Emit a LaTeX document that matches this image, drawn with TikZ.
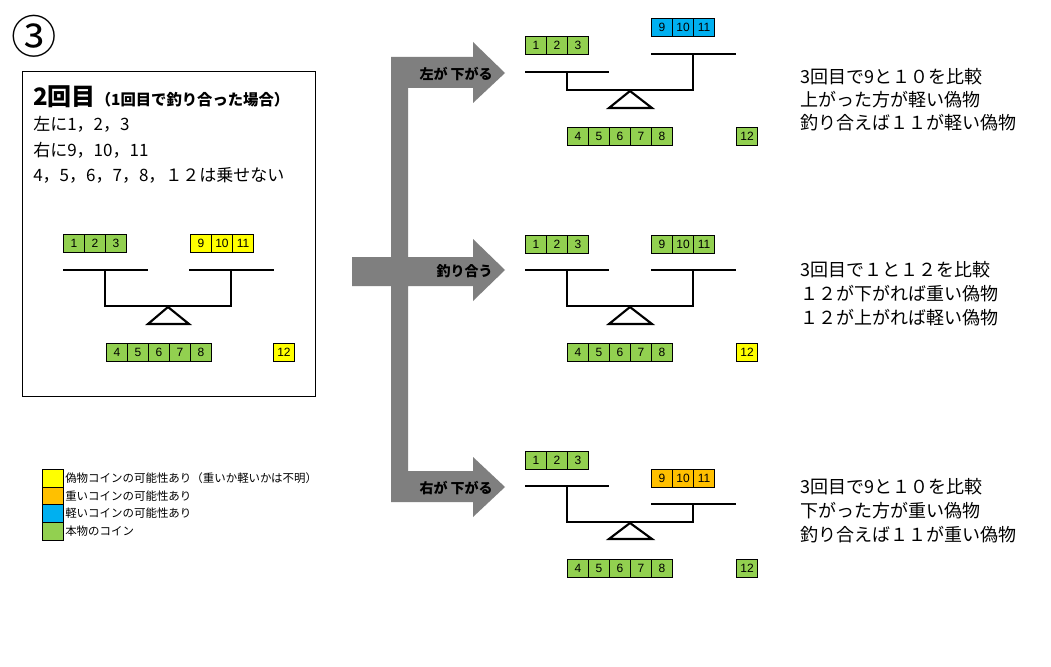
\documentclass[tikz,border=0pt]{standalone}
\usepackage{fontspec}
\setmainfont{Noto Sans CJK JP}
\newfontfamily\arialf{Liberation Sans}
\definecolor{cg}{HTML}{92D050}
\definecolor{cy}{HTML}{FFFF00}
\definecolor{co}{HTML}{FFC000}
\definecolor{cb}{HTML}{00B0F0}
\definecolor{agray}{HTML}{7F7F7F}
\tikzset{
  coin/.style={draw, line width=0.75pt, minimum width=15.75pt, minimum height=13.5pt, inner sep=0pt, anchor=north west, font=\arialf\fontsize{9pt}{10pt}\selectfont},
  bar/.style={line width=1.6pt},
  tri/.style={line width=1.6pt, line join=miter},
  body/.style={anchor=west, inner sep=0pt, font=\fontsize{12.75pt}{14pt}\selectfont},
  rtext/.style={anchor=west, inner sep=0pt, font=\fontsize{13.5pt}{15pt}\selectfont},
  alabel/.style={anchor=east, inner sep=0pt, font=\bfseries\fontsize{10.5pt}{12pt}\selectfont},
  legtext/.style={anchor=west, inner sep=0pt, font=\fontsize{8.6pt}{10pt}\selectfont},
  legsq/.style={draw, line width=0.75pt}
}
\begin{document}
\begin{tikzpicture}[x=0.75pt,y=-0.75pt]
\useasboundingbox[fill=white] (0,0) rectangle (1051,667);

% circled number
\node[inner sep=0pt, font=\fontsize{34pt}{36pt}\selectfont] (num) at (34,36) {③};

% left box
\draw[line width=0.75pt] (22,72) rectangle (315,396);
\node[anchor=west, inner sep=0pt] (title) at (33,97) {{\bfseries\fontsize{18pt}{20pt}\selectfont 2回目}{\bfseries\fontsize{11.5pt}{13pt}\selectfont （1回目で釣り合った場合）}};
\node[body] (l1) at (33,124) {左に1，2，3};
\node[body] (l2) at (33,150) {右に9，10，11};
\node[body] (l3) at (33,175) {4，5，6，7，8，１２は乗せない};

% box scale
\foreach \n [count=\i from 0] in {1,2,3} \node[coin, fill=cg] (p\n) at (63+21*\i,234) {\n};
\foreach \n [count=\i from 0] in {9,10,11} \node[coin, fill=cy] (p\n) at (190+21*\i,234) {\n};
\foreach \n [count=\i from 0] in {4,5,6,7,8} \node[coin, fill=cg] (p\n) at (106+21*\i,343) {\n};
\node[coin, fill=cy] (p12) at (273,343) {12};
\draw[bar] (63,270) -- (148,270);
\draw[bar] (189,270) -- (274,270);
\draw[bar] (105,270) -- (105,306) -- (231,306) -- (231,270);
\draw[tri] (168,307) -- (148,324) -- (189,324) -- cycle;

% gray arrows
\fill[agray] (391,57) -- (473,57) -- (473,42) -- (505,73) -- (473,103) -- (473,88) -- (408,88)
  -- (408,257) -- (473,257) -- (473,239) -- (505,270) -- (473,301) -- (473,286) -- (408,286)
  -- (408,471) -- (473,471) -- (473,457) -- (505,487) -- (473,517) -- (473,502) -- (391,502)
  -- (391,286) -- (352,286) -- (352,257) -- (391,257) -- cycle;
\node[alabel] (la) at (493,74) {左が 下がる};
\node[alabel] (lb) at (493,271) {釣り合う};
\node[alabel] (lc) at (493,488) {右が 下がる};

% top scale (left down)
\foreach \n [count=\i from 0] in {1,2,3} \node[coin, fill=cg] (a\n) at (525+21*\i,36) {\n};
\foreach \n [count=\i from 0] in {9,10,11} \node[coin, fill=cb] (a\n) at (651+21*\i,18) {\n};
\foreach \n [count=\i from 0] in {4,5,6,7,8} \node[coin, fill=cg] (a\n) at (567+21*\i,127) {\n};
\node[coin, fill=cg] (a12) at (736,127) {12};
\draw[bar] (525,72) -- (609,72);
\draw[bar] (651,54) -- (736,54);
\draw[bar] (567,72) -- (567,90) -- (693,90) -- (693,54);
\draw[tri] (630,91) -- (609,108) -- (652,108) -- cycle;

% middle scale (balanced)
\foreach \n [count=\i from 0] in {1,2,3} \node[coin, fill=cg] (b\n) at (525+21*\i,235) {\n};
\foreach \n [count=\i from 0] in {9,10,11} \node[coin, fill=cg] (b\n) at (651+21*\i,235) {\n};
\foreach \n [count=\i from 0] in {4,5,6,7,8} \node[coin, fill=cg] (b\n) at (567+21*\i,343) {\n};
\node[coin, fill=cy] (b12) at (736,343) {12};
\draw[bar] (525,270) -- (609,270);
\draw[bar] (651,270) -- (736,270);
\draw[bar] (567,270) -- (567,306) -- (693,306) -- (693,270);
\draw[tri] (630,307) -- (609,324) -- (652,324) -- cycle;

% bottom scale (right down)
\foreach \n [count=\i from 0] in {1,2,3} \node[coin, fill=cg] (c\n) at (525+21*\i,451) {\n};
\foreach \n [count=\i from 0] in {9,10,11} \node[coin, fill=co] (c\n) at (651+21*\i,469) {\n};
\foreach \n [count=\i from 0] in {4,5,6,7,8} \node[coin, fill=cg] (c\n) at (567+21*\i,559) {\n};
\node[coin, fill=cg] (c12) at (736,559) {12};
\draw[bar] (525,486) -- (609,486);
\draw[bar] (651,504) -- (736,504);
\draw[bar] (567,486) -- (567,522) -- (693,522) -- (693,504);
\draw[tri] (630,523) -- (609,539) -- (652,539) -- cycle;

% right texts
\node[rtext] (ta1) at (800,77) {3回目で9と１０を比較};
\node[rtext] (ta2) at (800,100) {上がった方が軽い偽物};
\node[rtext] (ta3) at (800,123) {釣り合えば１１が軽い偽物};
\node[rtext] (tb1) at (800,270) {3回目で１と１２を比較};
\node[rtext] (tb2) at (800,294) {１２が下がれば重い偽物};
\node[rtext] (tb3) at (800,318) {１２が上がれば軽い偽物};
\node[rtext] (tc1) at (800,487) {3回目で9と１０を比較};
\node[rtext] (tc2) at (800,511) {下がった方が重い偽物};
\node[rtext] (tc3) at (800,535) {釣り合えば１１が重い偽物};

% legend
\draw[legsq, fill=cy] (42,469) rectangle (63,487);
\draw[legsq, fill=co] (42,487) rectangle (63,504.5);
\draw[legsq, fill=cb] (42,504.5) rectangle (63,522);
\draw[legsq, fill=cg] (42,522) rectangle (63,540);
\node[legtext] (g1) at (65,478) {偽物コインの可能性あり（重いか軽いかは不明）};
\node[legtext] (g2) at (65,496) {重いコインの可能性あり};
\node[legtext] (g3) at (65,513) {軽いコインの可能性あり};
\node[legtext] (g4) at (65,531) {本物のコイン};
\end{tikzpicture}
\end{document}
